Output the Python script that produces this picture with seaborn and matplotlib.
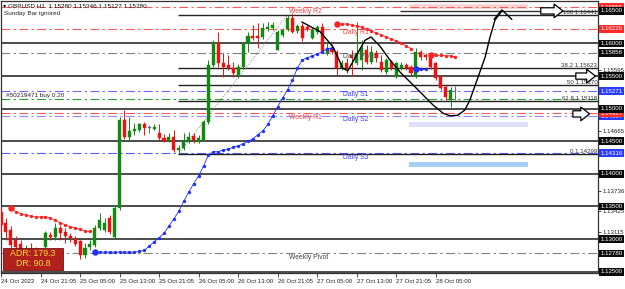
import numpy as np
import pandas as pd
import matplotlib
matplotlib.use("Agg")
import matplotlib.pyplot as plt
import seaborn as sns
from matplotlib.patches import Rectangle

sns.set_theme(style="white")
plt.rcParams["font.family"] = ["Liberation Sans", "DejaVu Sans"]

# ---------------- data ----------------
opens = [1.1342,1.1325,1.1314,1.1299,1.1292,1.1277,1.1285,1.1283,1.1271,1.1288,
         1.1306,1.1303,1.1317,1.1311,1.1305,1.1300,1.1297,1.1276,1.1288,1.1291,
         1.1317,1.1314,1.1332,1.1303,1.1348,1.1483,1.1457,1.1466,1.1467,1.1476,
         1.1470,1.1469,1.1463,1.1455,1.1450,1.1457,1.1437,1.1440,1.1450,1.1458,
         1.1449,1.1452,1.1480,1.1567,1.1601,1.1570,1.1567,1.1562,1.1552,1.1564,
         1.1601,1.1612,1.1612,1.1610,1.1622,1.1624,1.1590,1.1613,1.1622,1.1639,
         1.1619,1.1627,1.1625,1.1608,1.1618,1.1625,1.1585,1.1593,1.1587,1.1562,
         1.1570,1.1582,1.1570,1.1575,1.1590,1.1572,1.1585,1.1572,1.1556,1.1572,
         1.1549,1.1562,1.1567,1.1564,1.1549,1.1587,1.1582,1.1579,1.1570,1.1549,
         1.1533,1.1513,1.1528]
highs = [1.1348,1.1332,1.1320,1.1305,1.1299,1.1291,1.1294,1.1288,1.1286,1.1312,
         1.1311,1.1325,1.1322,1.1317,1.1309,1.1305,1.1299,1.1294,1.1299,1.1322,
         1.1340,1.1332,1.1337,1.1352,1.1487,1.1498,1.1487,1.1478,1.1478,1.1480,
         1.1475,1.1476,1.1476,1.1461,1.1463,1.1467,1.1444,1.1463,1.1464,1.1463,
         1.1460,1.1483,1.1575,1.1605,1.1618,1.1585,1.1582,1.1572,1.1569,1.1602,
         1.1618,1.1628,1.1631,1.1631,1.1633,1.1633,1.1621,1.1624,1.1644,1.1647,
         1.1630,1.1631,1.1628,1.1625,1.1628,1.1631,1.1602,1.1599,1.1590,1.1575,
         1.1578,1.1590,1.1633,1.1605,1.1598,1.1596,1.1590,1.1582,1.1578,1.1575,
         1.1572,1.1572,1.1570,1.1567,1.1593,1.1590,1.1585,1.1582,1.1572,1.1552,
         1.1536,1.1533,1.15346]
lows = [1.1311,1.1299,1.1283,1.1280,1.1271,1.1271,1.1269,1.1265,1.1265,1.1273,
        1.1299,1.1299,1.1299,1.1294,1.1296,1.1289,1.1269,1.1271,1.1283,1.1288,
        1.1314,1.1311,1.1308,1.1300,1.1345,1.1454,1.1452,1.1460,1.1464,1.1460,
        1.1463,1.1467,1.1452,1.1449,1.1449,1.1434,1.1432,1.1437,1.1447,1.1447,
        1.1447,1.1450,1.1476,1.1564,1.1564,1.1549,1.1559,1.1549,1.1547,1.1561,
        1.1587,1.1605,1.1593,1.1607,1.1619,1.1621,1.1590,1.1610,1.1619,1.1616,
        1.1616,1.1604,1.1619,1.1607,1.1615,1.1585,1.1582,1.1584,1.1552,1.1559,
        1.1555,1.1550,1.1567,1.1559,1.1569,1.1569,1.1572,1.1556,1.1553,1.1559,
        1.1547,1.1559,1.1559,1.1552,1.1547,1.1575,1.1575,1.1561,1.1544,1.1529,
        1.1513,1.1503,1.15127]
closes = [1.1322,1.1311,1.1291,1.1288,1.1280,1.1285,1.1277,1.1274,1.1280,1.1309,
          1.1303,1.1317,1.1309,1.1305,1.1302,1.1292,1.1276,1.1286,1.1292,1.1317,
          1.1329,1.1325,1.1311,1.1348,1.1483,1.1457,1.1466,1.1469,1.1476,1.1470,
          1.1470,1.1472,1.1455,1.1450,1.1457,1.1437,1.1440,1.1450,1.1457,1.1452,
          1.1455,1.1480,1.1567,1.1601,1.1570,1.1564,1.1562,1.1555,1.1564,1.1599,
          1.1612,1.1608,1.1608,1.1624,1.1625,1.1628,1.1618,1.1621,1.1639,1.1618,
          1.1627,1.1608,1.1622,1.1621,1.1625,1.1587,1.1593,1.1587,1.1562,1.1570,
          1.1562,1.1578,1.1585,1.1593,1.1572,1.1587,1.1578,1.1559,1.1575,1.1562,
          1.1570,1.1567,1.1562,1.1555,1.1587,1.1579,1.1579,1.1564,1.1547,1.1532,
          1.1518,1.1529,1.1528]

x_label_bars = [0, 8, 16, 24, 32, 40, 48, 56, 64, 72, 80, 88]
x_labels = ["24 Oct 2022", "24 Oct 21:05", "25 Oct 05:00", "25 Oct 13:00",
            "25 Oct 21:05", "26 Oct 05:00", "26 Oct 13:00", "26 Oct 21:05",
            "27 Oct 05:00", "27 Oct 13:00", "27 Oct 21:05", "28 Oct 05:00"]

# trailing-stop style dot indicators
red_a_bars = list(range(2, 19))
red_a = [1.1348,1.1342,1.1339,1.1337,1.1335,1.1334,1.1334,1.1334,1.1332,1.1329,
         1.1325,1.1322,1.1319,1.1317,1.1315,1.1312,1.1312]
blue_a_bars = list(range(19, 68))
blue_a = [1.1280]*9 + [1.1281,1.1283,1.1289,1.1296,1.1302,1.1309,1.1320,1.1331,1.1343,
          1.1358,1.1372,1.1385,1.1397,1.1412,1.1429,1.1434,1.1434,1.1437,1.1438,1.1441,
          1.1443,1.1446,1.1450,1.1454,1.1460,1.1466,1.1476,1.1489,1.1503,1.1516,
          1.1529,1.1544,1.1562,1.1575,1.1578,1.1581,1.1584,1.1587,1.1592,1.1593]
red_b_bars = list(range(68, 84))
red_b = [1.1630,1.1630,1.1630,1.1628,1.1627,1.1625,1.1622,1.1619,1.1616,1.1613,
         1.1610,1.1607,1.1604,1.1601,1.1596,1.1592]
blue_b_bars = [84, 85, 86]
blue_b = [1.1561, 1.1561, 1.1561]
red_c_bars = [87, 88, 89, 90, 91, 92]
red_c = [1.1582, 1.1582, 1.1582, 1.1581, 1.1581, 1.1579]

# round-number levels
round_levels = [1.16, 1.155, 1.15, 1.145, 1.14, 1.135, 1.13, 1.125]
level_1165 = 1.165
# pivots
pivot_names = ["Weekly R2", "Daily R1", "Daily Pivot", "Daily S1", "Weekly R1", "Daily S2", "Daily S3", "Weekly Pivot"]
pivot_prices = [1.16555, 1.16226, 1.15856, 1.15271, 1.14927, 1.14887, 1.14316, 1.12780]
order_price = 1.1515
order_text = "#50219471 buy 0.20"
# fibonacci
fib_names = ["0", "38.2", "50", "61.8", "100"]
fib_prices = [1.14299, 1.15623, 1.15370, 1.15118, 1.16441]
fib_start_bar = 35.8
fib_diag_end_bar = 58.0
# zones
zone_bars = (82.6, 106.7)
zone_pink = (1.1653, 1.1661)
zone_lav = (1.1472, 1.1479)
zone_blue = (1.1410, 1.1419)
# hand drawn projection path
path_bars = [60.9,64.6,67.2,69.2,70.2,72.1,73.7,74.9,76.7,78.7,80.8,84.8,87.4,89.5,90.9,92.5,93.9,94.9,96.6,98.0,99.0,100.0,101.4]
path_prices = [1.1633,1.1618,1.1595,1.1562,1.1558,1.1584,1.1605,1.1610,1.1596,1.1575,1.1556,1.1526,1.1506,1.1493,1.1489,1.1490,1.1498,1.1513,1.1549,1.1579,1.1610,1.1636,1.1650]
# hollow arrows (start bar, end bar, price)
arrows = [(108.7, 114.3, 1.1650), (115.8, 120.9, 1.1550), (115.2, 119.7, 1.1492)]
# right axis
plain_ticks = [1.15595, 1.14665, 1.13736, 1.13425, 1.13115]
red_boxes = [1.16555, 1.16226, 1.14927]
blue_boxes = [1.15271, 1.14887, 1.14316]
black_boxes = [1.16500, 1.16000, 1.15856, 1.15500, 1.15000, 1.14500, 1.14000, 1.13500, 1.13000, 1.12780, 1.12500]
adr_text = "ADR: 179.3"
dr_text = "DR: 90.8"
header = "\u25be GBPUSD,H1  1.15280 1.15346 1.15127 1.15280"

# ---------------- figure ----------------
W, H = 625, 289
fig = plt.figure(figsize=(W/100, H/100), dpi=100)
fig.patch.set_facecolor("white")
ax = fig.add_axes([0.0008, 0.0554, 0.956, 0.9412])
ax.set_facecolor("white")
ax.set_xlim(-0.1, 120.85)
ax.set_ylim(1.12480, 1.16652)

df = pd.DataFrame(dict(bar=np.arange(len(opens)), o=opens, h=highs, l=lows, c=closes))
GREEN, RED, GRAY = "#108a10", "#f01010", "#666666"
df["col"] = np.where(df.c > df.o, GREEN, np.where(df.c < df.o, RED, GRAY))

# zones
for (p0, p1), col in [(zone_pink, "#ffd6d6"), (zone_lav, "#dedefa"), (zone_blue, "#a6cdf3")]:
    ax.add_patch(Rectangle((zone_bars[0], p0), zone_bars[1]-zone_bars[0], p1-p0, fc=col, ec="none", zorder=1))

DD = (0, (8, 3, 2, 3))
# pivot lines
piv_col = {"Weekly R2": "#ff5a5a", "Daily R1": "#ff5a5a", "Daily Pivot": "#808080", "Daily S1": "#6a6aff",
           "Weekly R1": "#ff5a5a", "Daily S2": "#8a8aff", "Daily S3": "#5a5aff", "Weekly Pivot": "#808080"}
lab_col = {"Weekly R2": "#f04040", "Daily R1": "#f04040", "Daily Pivot": "#555555", "Daily S1": "#4040f0",
           "Weekly R1": "#f04040", "Daily S2": "#4040f0", "Daily S3": "#4040f0", "Weekly Pivot": "#444444"}
for name, p in zip(pivot_names, pivot_prices):
    ax.axhline(p, color=piv_col[name], lw=0.8, ls=DD, zorder=2)
    xb = 58.3 if name.startswith("Weekly") else 69.3
    ax.text(xb, p - 0.00005, name, color=lab_col[name], fontsize=4.9, va="top", ha="left", zorder=6)
ax.axhline(order_price, color="#2ca02c", lw=0.8, ls=DD, zorder=2)
ax.text(1.0, order_price + 0.00008, order_text, fontsize=4.6, color="#222222", va="bottom", ha="left")

# round-number lines
for p in round_levels:
    ax.axhline(p, color="#1a1a1a", lw=1.1, zorder=2)
ax.hlines(level_1165, 80.8, 121, color="#333333", lw=1.0, zorder=2)
# fibonacci
for n, p in zip(fib_names, fib_prices):
    ax.hlines(p, fib_start_bar, 121, color="#222222", lw=1.0, zorder=2)
    ax.text(120.7, p, f"{n} {p:.5f}", fontsize=4.4, color="#333333", ha="right", va="bottom", zorder=6)
ax.plot([fib_start_bar, fib_diag_end_bar], [fib_prices[0], fib_prices[-1]], color="#888888", lw=0.7, ls=(0, (1, 1.5)), zorder=2)

# candles
ax.vlines(df.bar, df.l, df.h, colors=df.col, lw=0.7, zorder=3)
body_lo = np.minimum(df.o, df.c)
body_h = np.maximum(np.abs(df.c - df.o), 0.00012)
ax.bar(df.bar, body_h, bottom=body_lo, width=0.62, color=df.col, edgecolor=df.col, lw=0.3, zorder=4)

# dot indicators
for bars, vals, col in [(red_a_bars, red_a, "#ff2020"), (blue_a_bars, blue_a, "#2030ff"),
                        (red_b_bars, red_b, "#ff2020"), (blue_b_bars, blue_b, "#2030ff"),
                        (red_c_bars, red_c, "#ff2020")]:
    sns.lineplot(x=bars, y=vals, ax=ax, color=col, lw=0.6, marker="o", markersize=2.4,
                 markeredgewidth=0, zorder=5, legend=False)
    ax.plot(bars[0], vals[0], "o", color=col, markersize=4.6, markeredgewidth=0, zorder=5)

# hand-drawn path
ax.plot(path_bars, path_prices, color="black", lw=1.0, zorder=6, solid_capstyle="round")
tip_b, tip_p = path_bars[-1], path_prices[-1]
ax.plot([tip_b - 1.6, tip_b, tip_b + 2.0], [tip_p - 0.0013, tip_p + 0.00015, tip_p - 0.0013], color="black", lw=1.0, zorder=6)

# hollow arrows
for b0, b1, p in arrows:
    ax.annotate("", xy=(b1, p), xytext=(b0, p),
                arrowprops=dict(arrowstyle="simple,head_length=0.7,head_width=1.1,tail_width=0.5",
                                fc="white", ec="black", lw=0.9, mutation_scale=9), zorder=7)

# axes styling
for s in ax.spines.values():
    s.set_color("#333333"); s.set_linewidth(0.9)
ax.yaxis.tick_right()
ax.set_yticks(plain_ticks)
ax.set_yticklabels([f"{p:.5f}" for p in plain_ticks], fontsize=4.4, color="#222222")
ax.set_xticks(x_label_bars)
ax.set_xticklabels(x_labels, fontsize=4.4, ha="left", color="#222222")
ax.tick_params(axis="x", bottom=True, length=3, width=0.6, pad=1.2, color="#333333")
ax.tick_params(axis="y", right=True, left=False, length=2, width=0.6, pad=1.0, color="#333333")
ax.grid(False)

ytr = ax.get_yaxis_transform()
def box(p, fc):
    ax.annotate(f"{p:.5f}", xy=(1.0, p), xycoords=ytr, xytext=(1.6, 0), textcoords="offset points",
                va="center", ha="left", fontsize=4.4, color="white", annotation_clip=False,
                bbox=dict(boxstyle="square,pad=0.22", fc=fc, ec="none"), zorder=10)
for p in blue_boxes:
    box(p, "#2a3cff")
for p in red_boxes:
    box(p, "#ff2a2a")
for p in black_boxes:
    box(p, "#0a0a0a")

# header texts
fig.text(3/W, 1 - 6/H, header, fontsize=4.6, color="#111111", va="center", ha="left",
         family=["Liberation Sans", "DejaVu Sans"])
fig.text(4/W, 1 - 14/H, "Sunday Bar ignored", fontsize=4.6, color="#222222", va="center", ha="left")

# ADR box
ax_px = lambda x, y: (x/W, 1 - y/H)
fig.patches.append(Rectangle(ax_px(3, 270), 60/W, 22/H, transform=fig.transFigure,
                             fc="#b0201c", ec="#7a1010", lw=0.6, zorder=20))
fig.text(33/W, 1 - 253/H, adr_text, fontsize=6.3, color="#f3dc3a", ha="center", va="center", zorder=21)
fig.text(33/W, 1 - 263.5/H, dr_text, fontsize=6.3, color="#f3dc3a", ha="center", va="center", zorder=21)

fig.savefig("out.png", dpi=100, facecolor="white")
